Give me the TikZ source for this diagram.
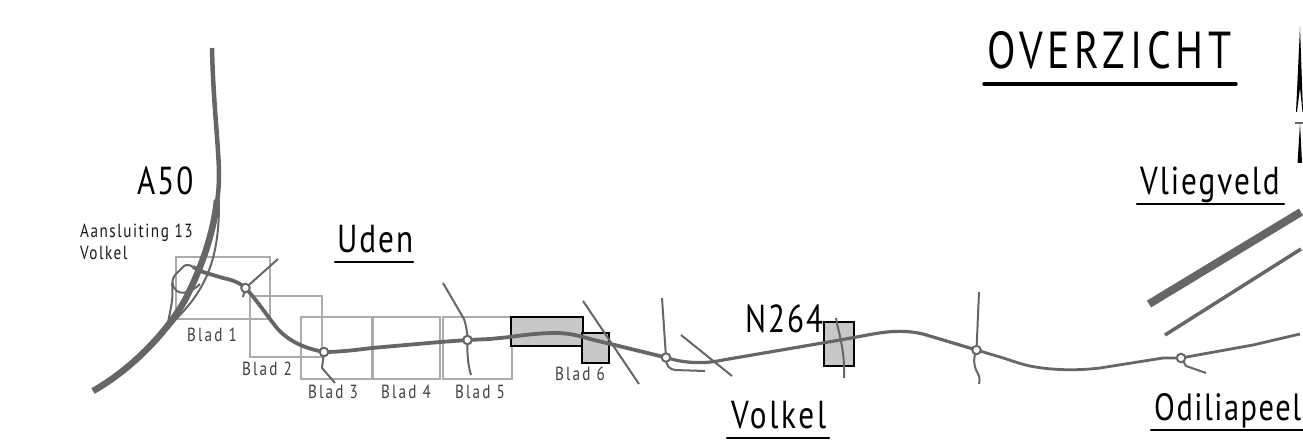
\documentclass[tikz,border=0pt]{standalone}
\usepackage{fontspec}
\setmainfont{PT Sans}[LetterSpace=5,FakeStretch=0.8]
\newfontfamily\tightfont{PT Sans}[LetterSpace=4,FakeStretch=0.8]
\newfontfamily\airyfont{PT Sans}[LetterSpace=7,FakeStretch=0.8]
\newfontfamily\widefont{PT Sans}[LetterSpace=11,FakeStretch=0.8]
\newfontfamily\midfont{PT Sans}[LetterSpace=8,FakeStretch=0.8]
\newfontfamily\titlefont{PT Sans}[LetterSpace=9,FakeStretch=0.8]
\definecolor{road}{HTML}{666666}
\definecolor{sheet}{HTML}{ABABAB}
\definecolor{shade}{HTML}{C8C8C8}
\tikzset{
 x=1pt,y=-1pt,
 sheetbox/.style={draw=sheet,line width=1.5pt},
 shadebox/.style={draw=black,fill=shade,line width=2.4pt},
 mainroad/.style={draw=road,line width=3.8pt,line join=round},
 sideroad/.style={draw=road,line width=2pt,line join=round},
 eastroad/.style={draw=road,line width=2.8pt,line join=round},
 rab/.style={circle,draw=road,fill=white,line width=2pt,minimum size=8.5pt,inner sep=0pt},
 lab/.style={anchor=base west,inner sep=0pt,text=black},
 rule/.style={draw=black,line width=2.4pt,line cap=round},
 blad/.style={lab,font=\widefont\fontsize{19}{19}\selectfont,text=black!75},
 small/.style={lab,font=\midfont\fontsize{19}{19}\selectfont,text=black!90},
 big/.style={lab,font=\fontsize{39}{39}\selectfont},
}
\begin{document}
\begin{tikzpicture}
\useasboundingbox (0,0) rectangle (1303,446);
% sheets
\draw[sheetbox] (176,257) rectangle (270,319);
\draw[sheetbox] (250,296) rectangle (322,357);
\draw[sheetbox] (301,317) rectangle (372,379);
\draw[sheetbox] (373,317) rectangle (440,379);
\draw[sheetbox] (443,317) rectangle (512,379);
\draw[shadebox] (511,317) rectangle (583,346);
\draw[shadebox] (582,333) rectangle (609,363);
\draw[shadebox] (824,322) rectangle (854,366);
% roundabouts
\coordinate (r1) at (245.5,288);
\coordinate (r2) at (324,352);
\coordinate (r3) at (467.5,340);
\coordinate (r4) at (666,357.5);
\coordinate (r5) at (976.5,350);
\coordinate (r6) at (1181,358);
% motorway
\draw[road,line width=4.5pt,line join=round] (212,48) .. controls (213,100) and (219,150) .. (219,175)
  .. controls (219,215) and (205,262) .. (185,300);
\draw[road,line width=6.5pt,line join=round] (217,200) .. controls (214,230) and (203,265) .. (185,300) .. controls (165,335) and (130,370) .. (93,391);
% ramps
\draw[sideroad] (219,205) .. controls (219,260) and (205,290) .. (177,318) -- (167,330);
\draw[sideroad] (167,328) .. controls (170,310) and (174,300) .. (172,283);
\draw[sideroad] (200,284) .. controls (192,292) and (182,295) .. (177,291) .. controls (170,285) and (172,278) .. (176,274) -- (184,266) .. controls (187,264) and (190,265) .. (193,267);
% main road
\draw[mainroad] (193,267) -- (203,272) -- (223,278) .. controls (233,280) and (240,283) .. (r1);
\draw[mainroad] (r1) .. controls (255,298) and (266,314) .. (273,323) .. controls (285,340) and (303,348) .. (r2);
\draw[mainroad] (r2) .. controls (340,352) and (355,350) .. (372,348) -- (440,342) -- (r3);
\draw[mainroad] (r3) -- (490,339) -- (510,337) .. controls (530,334) and (545,333) .. (555,333) .. controls (570,333) and (580,336) .. (590,339) -- (r4);
\draw[eastroad,line width=3.2pt] (r4) .. controls (680,362) and (700,365) .. (723,360) -- (840,340) -- (873,334) .. controls (895,330) and (910,331) .. (923,334) -- (r5);
\draw[eastroad] (r5) -- (1000,357) .. controls (1010,360) and (1020,364) .. (1030,366) .. controls (1050,370) and (1075,371) .. (1100,368) -- (1163,358) -- (r6);
\draw[eastroad] (r6) -- (1253,345) -- (1300,334);
% side roads
\draw[sideroad] (r1) -- (278,259);
\draw[sideroad] (r1) -- (243,297);
\draw[sideroad] (r2) -- (322,368) -- (335,383);
\draw[sideroad] (r3) .. controls (467,330) and (466,325) .. (464,319) -- (443,283);
\draw[sideroad] (r3) .. controls (467,355) and (468,365) .. (471,375);
\draw[sideroad] (583,301) -- (639,384);
\draw[sideroad] (r4) -- (662,298);
\draw[sideroad] (r4) .. controls (666,366) and (669,369) .. (675,370) -- (705,371);
\draw[sideroad] (681,335) -- (732,376);
\draw[sideroad] (836,318) .. controls (839,335) and (845,350) .. (844,378);
\draw[sideroad] (r5) -- (979,292);
\draw[sideroad] (r5) .. controls (973,358) and (974,365) .. (976,370) .. controls (980,376) and (980,380) .. (979,384);
\draw[sideroad] (r6) -- (1186,366) -- (1206,373);
\node[rab] (n1) at (r1) {};
\node[rab] (n2) at (r2) {};
\node[rab] (n3) at (r3) {};
\node[rab] (n4) at (r4) {};
\node[rab] (n5) at (r5) {};
\node[rab] (n6) at (r6) {};
% airfield
\draw[road,line width=8pt] (1149,304) -- (1301,212);
\draw[road,line width=3.5pt] (1165,335) -- (1301,249);
% north arrow
\fill[black] (1300,27) -- (1296,112) -- (1297,112) -- (1300,88) -- (1302.5,112) -- (1303,112) -- cycle;
\fill[black] (1300,123) -- (1297.5,163) -- (1302,163) -- cycle;
\draw[road,line width=1.2pt] (1295,123) -- (1303,123);
% texts
\node[lab,font=\titlefont\fontsize{52}{52}\selectfont] (t0) at (987,69) {OVERZICHT};
\draw[rule,line width=3.4pt] (984,84) -- (1236,84);
\node[big] (t1) at (137,195) {A50};
\node[big] (t2) at (337,253) {Uden};
\draw[rule] (335,262) -- (413,262);
\node[lab,font=\airyfont\fontsize{39}{39}\selectfont] (t3) at (731,428) {Volkel};
\draw[rule] (727,438) -- (829,438);
\node[big] (t4) at (745,332) {N264};
\node[big] (t5) at (1140,195) {Vliegveld};
\draw[rule] (1137,204) -- (1284,204);
\node[lab,font=\tightfont\fontsize{38}{38}\selectfont] (t6) at (1154,420) {Odiliapeel};
\draw[rule] (1151,430) -- (1303,430);
\node[small] (t7) at (80,238) {Aansluiting 13};
\node[small] (t8) at (80,260) {Volkel};
\node[blad] (b1) at (187,341) {Blad 1};
\node[blad] (b2) at (242,375) {Blad 2};
\node[blad] (b3) at (308,398) {Blad 3};
\node[blad] (b4) at (381,398) {Blad 4};
\node[blad] (b5) at (455,398) {Blad 5};
\node[blad] (b6) at (555,380) {Blad 6};
\end{tikzpicture}
\end{document}
